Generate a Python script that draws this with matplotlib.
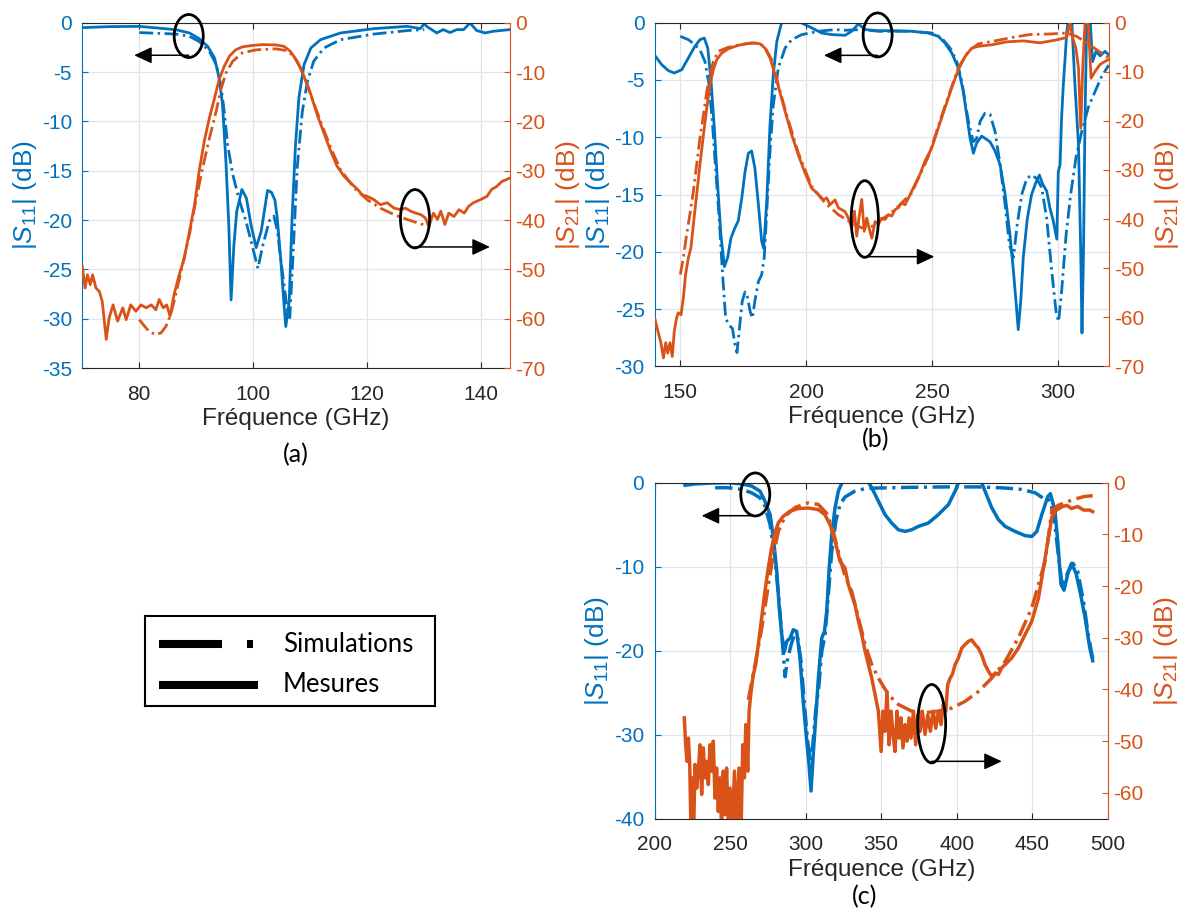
import matplotlib
matplotlib.use("Agg")
import matplotlib.pyplot as plt
from matplotlib.patches import Ellipse, FancyArrowPatch
from matplotlib.lines import Line2D

plt.rcParams['font.family'] = ['Liberation Sans', 'DejaVu Sans']
plt.rcParams['mathtext.fontset'] = 'custom'
plt.rcParams['mathtext.rm'] = 'Liberation Sans'
plt.rcParams['mathtext.it'] = 'Liberation Sans:italic'
plt.rcParams['axes.unicode_minus'] = False

BLUE = '#0072BD'
ORANGE = '#D95319'
DARK = '#262626'

# ---------------- panel (a) ----------------
a_s11_mes_f = [70.0, 74.7, 80.0, 86.4, 88.8, 90.5, 92.0, 93.2, 94.0, 94.6, 95.2, 95.7, 96.1, 96.6,
               97.1, 98.0, 98.8, 99.6, 100.5, 101.4, 102.5, 103.2, 103.8, 104.2, 104.8, 105.4, 105.7,
               106.3, 106.8, 107.4, 108.0, 108.9, 110.1, 111.8, 115.3, 121.2, 127.0, 129.3, 130.0,
               130.4, 132.2, 133.3, 134.5, 135.7, 136.9, 138.0, 139.2, 140.7, 142.1, 145.0]
a_s11_mes_db = [-0.5, -0.4, -0.37, -0.71, -1.04, -1.62, -2.4, -3.58, -5.6, -8.3, -14.1, -20.5, -28.1,
                -22.5, -19.1, -16.9, -17.8, -20.5, -22.8, -21.1, -17.0, -17.2, -18.0, -19.8, -23.9,
                -28.6, -30.8, -28.2, -19.8, -12.4, -7.6, -4.25, -2.56, -1.72, -1.04, -0.6, -0.37,
                -0.6, -0.1, -0.37, -1.04, -0.7, -1.0, -0.7, -0.7, -0.03, -0.8, -1.04, -0.87, -0.7]
a_s11_sim_f = [80.0, 86.4, 88.8, 90.5, 92.3, 93.5, 94.3, 94.9, 95.5, 96.4, 97.6, 98.7, 99.9, 100.8,
               101.7, 102.8, 103.6, 104.2, 104.8, 106.0, 106.4, 107.0, 107.7, 108.6, 109.5, 110.6,
               112.4, 115.3, 121.2, 127.0, 130.0]
a_s11_sim_db = [-1.0, -1.15, -1.38, -1.9, -2.9, -4.25, -6.3, -9.0, -12.4, -15.4, -18.1, -20.1, -22.8,
                -24.9, -22.5, -20.1, -19.6, -21.0, -23.9, -29.3, -29.9, -23.2, -14.7, -9.0, -5.95,
                -3.9, -2.56, -1.72, -1.15, -0.8, -0.7]
a_s21_mes_f = [70.0, 70.5, 70.9, 71.4, 71.8, 72.4, 73.0, 73.5, 74.2, 74.7, 75.4, 76.2, 77.1, 77.7,
               78.5, 79.4, 80.3, 81.2, 82.1, 82.9, 83.5, 84.2, 84.8, 85.4, 86.1, 87.0, 87.9, 88.8,
               89.7, 90.5, 91.4, 92.3, 93.2, 94.0, 94.9, 95.8, 96.9, 98.1, 99.9, 101.6, 104.0,
               105.4, 106.5, 107.7, 108.9, 110.1, 111.2, 112.4, 113.6, 114.7, 115.9, 117.1, 118.3,
               119.1, 120.0, 121.2, 122.3, 123.5, 124.7, 125.9, 126.7, 127.6, 128.5, 129.4, 130.2,
               130.8, 131.6, 132.3, 132.9, 133.6, 134.3, 135.2, 136.1, 137.0, 137.8, 138.6, 139.8,
               141.0, 141.8, 142.7, 143.6, 145.0]
a_s21_mes_db = [-49.4, -53.8, -51.1, -53.1, -51.1, -53.8, -54.5, -56.5, -64.2, -59.9, -57.2, -60.5,
                -57.8, -60.2, -57.2, -58.5, -57.2, -57.8, -57.2, -58.2, -56.1, -57.8, -57.2, -59.5,
                -55.1, -51.1, -47.7, -42.3, -36.9, -30.1, -24.0, -19.3, -15.3, -11.5, -8.85, -6.8,
                -5.5, -4.9, -4.6, -4.45, -4.5, -4.8, -5.8, -7.8, -10.9, -14.6, -18.6, -22.4, -26.1,
                -29.1, -31.1, -32.5, -33.8, -34.9, -35.2, -35.9, -36.9, -36.5, -37.6, -37.9, -37.6,
                -38.2, -38.6, -38.9, -39.6, -41.3, -38.6, -39.9, -38.2, -40.9, -38.6, -39.3, -37.9,
                -38.6, -37.2, -36.5, -35.9, -35.2, -33.8, -33.2, -32.2, -31.5]
a_s21_sim_f = [80.0, 80.9, 81.8, 82.9, 83.8, 84.7, 85.5, 86.4, 87.6, 88.8, 89.9, 91.1, 92.3, 93.5,
               94.3, 95.2, 96.4, 98.1, 100.5, 104.0, 106.0, 107.1, 108.3, 109.5, 110.6, 111.8,
               113.6, 115.3, 117.7, 120.0, 122.3, 124.7, 127.0, 129.4, 130.2]
a_s21_sim_db = [-60.2, -61.5, -62.7, -63.2, -62.9, -61.5, -59.2, -55.1, -49.0, -42.9, -36.2, -29.5,
                -23.4, -17.9, -13.6, -10.2, -7.8, -6.1, -5.5, -5.3, -5.7, -6.8, -9.2, -12.6, -16.3,
                -20.0, -25.4, -29.8, -33.5, -35.9, -37.6, -38.9, -39.9, -40.8, -41.0]

# ---------------- panel (b) ----------------
b_s11_mes_f = [140.0, 142.6, 145.3, 147.6, 150.6, 153.2, 155.8, 157.8, 159.5, 160.9, 162.2, 163.5,
               164.8, 166.1, 167.5, 168.8, 170.1, 171.7, 173.0, 174.4, 175.7, 177.0, 178.3, 179.6,
               181.0, 182.3, 183.1, 184.3, 185.6, 186.9, 188.3, 190.2, 193.0, 196.5, 198.2, 202.2,
               206.1, 210.1, 215.4, 218.0, 220.7, 223.3, 228.6, 235.2, 241.8, 248.4, 252.4, 255.0,
               257.7, 260.3, 262.3, 263.6, 265.0, 266.3, 267.6, 269.6, 271.6, 272.9, 274.9, 276.9,
               278.9, 280.8, 282.2, 283.2, 284.1, 285.1, 286.1, 287.7, 289.4, 291.2, 292.5, 293.8,
               295.4, 296.7, 298.0, 299.4, 300.0, 300.7, 301.3, 302.0, 302.7, 303.3, 304.0, 305.3,
               306.6, 308.0, 308.9, 309.4, 310.0, 310.6, 311.3, 312.6, 313.6, 315.0, 316.6, 318.5,
               320.0]
b_s11_mes_db = [-2.9, -3.66, -4.19, -4.39, -4.1, -3.08, -2.06, -1.48, -1.34, -2.21, -5.12, -9.2,
                -14.1, -18.5, -21.3, -20.5, -18.8, -17.9, -17.3, -15.3, -13.0, -11.4, -11.2, -12.7,
                -15.9, -19.1, -19.7, -15.6, -8.9, -4.54, -1.63, 0.0, 0.4, 0.3, -0.03, -0.46, -0.9,
                -1.04, -1.1, -0.75, -0.1, -0.6, -0.7, -0.7, -0.75, -0.9, -1.19, -1.77, -2.64, -3.95,
                -6.0, -8.0, -10.1, -11.4, -10.5, -9.9, -10.2, -10.4, -11.2, -12.4, -15.0, -18.5,
                -21.7, -24.3, -26.8, -24.3, -20.5, -17.1, -15.0, -13.9, -13.3, -14.1, -14.7, -16.2,
                -17.3, -18.9, -13.0, -12.4, -8.3, -5.4, -3.1, -1.0, 0.4, 0.4, -5.4, -10.6, -20.0,
                -27.1, -20.0, -8.3, 0.4, 0.4, -3.4, -2.5, -2.9, -2.5, -2.8]
b_s11_sim_f = [150.0, 153.2, 155.8, 157.8, 159.8, 161.4, 162.7, 164.0, 165.4, 166.7, 168.0, 169.3,
               170.7, 171.7, 172.5, 173.6, 174.6, 175.7, 176.7, 177.7, 178.6, 179.6, 181.0, 182.3,
               183.3, 184.3, 185.6, 186.9, 188.9, 191.6, 194.2, 198.2, 204.8, 211.4, 215.4, 222.0,
               228.6, 241.8, 249.8, 253.7, 257.0, 259.7, 261.7, 263.2, 264.6, 266.3, 267.6, 269.0,
               270.9, 272.9, 274.9, 276.9, 278.9, 280.6, 282.2, 283.7, 285.5, 287.5, 289.4, 291.4,
               293.4, 295.4, 297.4, 299.1, 300.1, 301.3, 303.1, 304.9, 307.0, 309.3, 311.9, 314.6,
               317.2, 320.0]
b_s11_sim_db = [-1.19, -1.48, -1.92, -2.36, -3.4, -5.4, -8.6, -12.7, -17.0, -21.7, -25.8, -26.4,
                -26.7, -28.1, -28.8, -26.4, -24.3, -23.5, -24.0, -25.2, -25.8, -24.3, -22.6, -22.0,
                -20.5, -16.5, -11.2, -7.2, -3.95, -2.21, -1.48, -1.04, -0.75, -0.6, -0.66, -0.6,
                -0.75, -0.75, -0.9, -1.33, -2.2, -3.37, -5.12, -7.2, -8.9, -10.4, -10.1, -8.6, -7.9,
                -8.0, -9.5, -12.4, -15.9, -19.4, -20.5, -17.6, -15.0, -13.6, -13.3, -13.6, -14.4,
                -17.1, -21.7, -25.2, -26.1, -23.5, -18.5, -15.0, -11.8, -9.5, -7.4, -6.0, -4.7, -3.7]
b_s21_mes_f = [140.0, 141.3, 142.3, 143.3, 144.2, 145.0, 145.9, 146.8, 147.6, 148.5, 149.2, 150.3,
               151.2, 152.1, 153.2, 154.2, 155.2, 156.5, 157.8, 159.2, 160.5, 161.8, 163.1, 164.5,
               166.4, 169.1, 173.0, 178.3, 181.7, 183.6, 185.6, 187.6, 189.6, 191.6, 194.2, 196.8,
               199.5, 202.1, 204.8, 206.8, 208.1, 209.4, 211.4, 212.7, 215.4, 216.7, 218.0, 219.1,
               220.0, 220.9, 222.0, 223.0, 224.0, 224.9, 226.0, 227.3, 228.6, 229.9, 231.2, 232.6,
               233.9, 235.2, 236.5, 237.8, 239.2, 241.2, 243.1, 245.1, 247.1, 249.8, 252.4, 255.0,
               257.7, 260.3, 263.0, 265.6, 268.3, 273.6, 279.5, 286.1, 292.7, 299.4, 303.3, 304.6,
               305.7, 307.0, 308.0, 308.9, 309.7, 310.6, 311.9, 313.0, 314.6, 316.6, 318.5, 320.0]
b_s21_mes_db = [-60.5, -63.2, -65.2, -68.3, -65.2, -67.3, -65.2, -68.0, -62.9, -60.2, -59.1, -59.5,
                -56.1, -51.3, -47.9, -45.9, -41.1, -35.0, -28.9, -22.8, -17.4, -12.6, -9.6, -7.5,
                -6.2, -5.3, -4.6, -4.1, -4.3, -5.2, -7.2, -10.6, -14.3, -18.1, -22.8, -26.9, -30.6,
                -33.7, -35.0, -36.1, -35.7, -37.1, -36.1, -37.7, -38.5, -39.8, -41.8, -38.4, -43.5,
                -39.8, -36.0, -42.5, -39.8, -41.8, -43.9, -40.5, -41.1, -39.8, -40.1, -39.1, -39.4,
                -38.1, -37.7, -36.7, -37.1, -35.0, -33.0, -30.9, -28.2, -25.5, -21.4, -17.4, -13.3,
                -9.6, -6.9, -5.2, -4.8, -4.5, -3.9, -3.7, -4.1, -3.5, -3.0, 0.0, -3.1, -5.2, -9.2,
                -21.5, -9.2, 0.0, 0.0, -11.3, -9.9, -8.5, -7.9, -7.5]
b_s21_sim_f = [150.0, 151.2, 152.5, 153.8, 155.2, 156.5, 157.8, 159.2, 160.5, 161.8, 163.1, 165.1,
               169.1, 175.7, 181.0, 183.6, 186.2, 191.6, 196.8, 202.1, 207.4, 212.7, 218.0, 222.0,
               226.0, 229.9, 235.2, 241.8, 248.4, 255.0, 260.3, 264.3, 268.3, 274.9, 280.8, 288.8,
               296.7, 303.3, 307.3, 311.3, 315.2, 320.0]
b_s21_sim_db = [-51.3, -47.9, -43.2, -39.1, -34.3, -28.9, -23.5, -18.7, -14.0, -10.6, -7.9, -5.8,
                -5.0, -4.3, -4.1, -5.0, -7.5, -17.7, -26.5, -33.3, -36.7, -39.1, -40.8, -41.8,
                -41.5, -40.1, -38.1, -34.7, -27.3, -17.0, -9.2, -5.8, -4.3, -3.7, -3.1, -2.4, -2.3,
                -2.1, -2.8, -4.1, -5.5, -7.2]

# ---------------- panel (c) ----------------
c_s11_mes_f = [220.1, 226.7, 237.7, 248.8, 257.6, 264.2, 269.7, 273.0, 276.4, 278.6, 280.8, 282.3,
               284.1, 285.9, 287.4, 289.6, 291.8, 294.0, 296.2, 298.5, 300.7, 302.2, 303.5, 305.1,
               306.6, 308.4, 310.6, 312.4, 313.9, 315.4, 317.2, 319.4, 321.6, 324.0, 327.0, 332.0,
               338.0, 341.0, 343.7, 348.1, 352.5, 356.9, 361.3, 365.8, 370.2, 374.6, 381.2, 387.8,
               394.5, 398.9, 401.1, 405.0, 412.0, 416.5, 418.7, 423.2, 427.6, 432.0, 438.6, 445.2,
               449.7, 453.0, 456.3, 458.5, 460.2, 462.0, 465.0, 467.0, 469.0, 471.0, 474.0, 476.0,
               479.0, 482.0, 485.0, 488.0, 490.0]
c_s11_mes_db = [-0.3, -0.15, -0.04, 0.0, -0.15, -0.4, -1.0, -2.2, -3.8, -6.6, -10.5, -14.5, -18.1,
                -20.1, -18.9, -18.5, -17.5, -17.7, -20.9, -26.4, -30.8, -33.6, -36.7, -32.0, -28.0,
                -23.2, -18.5, -17.7, -15.3, -10.5, -6.2, -3.0, -1.0, 0.0, 0.5, 0.5, 0.5, 0.2, -0.6,
                -2.2, -3.8, -4.8, -5.6, -5.8, -5.6, -5.2, -4.8, -3.8, -2.6, -1.0, 0.0, 0.5, 0.5, 0.0,
                -1.0, -3.0, -4.4, -5.2, -5.8, -6.3, -6.4, -5.8, -3.8, -2.6, -1.67, -1.3, -3.3, -7.3,
                -12.1, -12.8, -10.5, -9.6, -10.8, -13.3, -16.1, -19.6, -21.2]
c_s11_sim_f = [240.0, 248.8, 257.6, 264.2, 269.7, 273.0, 276.4, 279.3, 281.5, 283.8, 285.4, 286.3,
               288.1, 290.3, 292.5, 294.7, 296.9, 299.1, 301.3, 302.9, 304.7, 306.6, 308.8, 310.6,
               312.8, 315.0, 317.2, 319.9, 322.7, 326.0, 332.6, 339.3, 348.1, 370.2, 392.3, 414.3,
               432.0, 443.0, 451.9, 458.5, 462.0, 465.0, 467.5, 470.0, 473.0, 477.0, 480.0, 484.0,
               487.0, 490.0]
c_s11_sim_db = [-0.6, -0.6, -0.8, -1.2, -1.8, -2.8, -5.0, -8.6, -12.5, -17.3, -20.9, -23.1, -20.9,
                -19.3, -18.1, -18.5, -21.3, -26.4, -30.8, -33.2, -31.2, -27.2, -24.0, -20.1, -18.1,
                -13.3, -8.2, -4.6, -2.6, -1.7, -1.0, -0.7, -0.63, -0.55, -0.5, -0.5, -0.63, -0.8,
                -1.2, -2.0, -2.1, -5.0, -9.0, -12.5, -10.9, -9.6, -10.5, -14.2, -18.1, -20.9]
c_s21_mes_f = [219.6, 220.5, 221.4, 222.3, 223.2, 224.0, 224.9, 225.8, 226.7, 227.8, 228.9, 230.0,
               231.1, 232.2, 233.3, 234.4, 235.5, 236.6, 237.7, 238.8, 239.9, 241.0, 242.1, 243.2,
               244.3, 245.4, 246.5, 247.6, 248.8, 249.9, 251.4, 252.8, 254.3, 255.8, 257.2, 258.3,
               259.4, 260.3, 261.6, 262.5, 263.8, 265.3, 266.9, 268.6, 270.8, 273.0, 275.2, 277.4,
               279.6, 281.8, 285.1, 289.6, 295.1, 301.7, 308.3, 312.7, 316.1, 319.4, 322.7, 326.0,
               328.2, 330.4, 332.6, 334.9, 337.1, 339.3, 341.5, 343.7, 345.9, 348.1, 349.9, 351.2,
               352.5, 353.8, 355.2, 356.5, 357.8, 359.1, 360.5, 361.8, 363.1, 364.4, 365.8, 367.1,
               368.4, 369.7, 371.3, 372.8, 374.2, 375.7, 377.2, 379.0, 380.8, 382.5, 384.3, 386.1,
               387.8, 389.6, 391.1, 392.7, 394.0, 395.6, 397.1, 398.9, 401.1, 403.3, 405.5, 407.7,
               409.9, 412.1, 414.3, 416.5, 418.7, 421.0, 423.2, 425.4, 427.6, 429.8, 432.0, 436.4,
               440.8, 445.2, 449.7, 454.1, 458.5, 463.0, 466.0, 470.0, 473.0, 476.0, 480.0, 484.0,
               488.0, 490.0]
c_s21_mes_db = [-45.5, -50.7, -53.9, -49.4, -54.5, -67.0, -57.1, -67.0, -54.5, -59.1, -55.8, -50.7,
                -60.3, -51.3, -57.1, -53.9, -58.4, -50.7, -55.8, -50.0, -61.0, -55.2, -63.6, -57.1,
                -67.0, -55.8, -64.2, -55.2, -67.0, -59.1, -67.0, -55.8, -67.0, -55.2, -67.0, -50.7,
                -57.1, -46.8, -55.8, -44.2, -40.4, -37.1, -35.2, -31.3, -26.2, -21.0, -16.5, -12.6,
                -9.7, -7.8, -6.5, -5.5, -5.0, -4.9, -5.2, -6.2, -8.1, -11.3, -15.2, -16.5, -19.7,
                -21.7, -23.6, -26.8, -29.4, -32.6, -35.2, -37.8, -41.0, -44.2, -52.0, -44.2, -48.1,
                -40.4, -50.7, -44.2, -48.7, -52.0, -44.2, -49.4, -45.5, -51.3, -46.8, -50.0, -45.5,
                -49.4, -44.2, -50.7, -44.9, -48.1, -44.2, -48.7, -44.9, -48.1, -44.2, -47.5, -44.2,
                -46.8, -42.9, -44.2, -39.1, -37.8, -37.1, -35.2, -33.9, -32.0, -31.3, -30.7, -30.4,
                -31.3, -32.0, -33.3, -35.2, -36.5, -37.5, -36.8, -37.1, -35.8, -35.2, -33.9, -32.0,
                -29.4, -26.8, -22.3, -14.6, -6.6, -5.3, -4.6, -4.4, -5.0, -4.6, -5.3, -5.3, -5.6]
c_s21_sim_f = [262.0, 266.4, 270.9, 275.3, 278.6, 281.9, 286.3, 292.9, 301.7, 308.3, 313.8, 318.2,
               322.6, 326.0, 330.4, 334.9, 339.3, 343.7, 348.1, 354.7, 361.3, 370.2, 379.0, 387.8,
               396.7, 405.5, 414.3, 423.2, 432.0, 440.8, 449.7, 458.5, 463.0, 467.0, 472.0, 478.0,
               484.0, 490.0]
c_s21_sim_db = [-42.0, -35.2, -28.1, -19.7, -13.9, -9.4, -6.5, -4.8, -3.9, -4.2, -5.9, -9.4, -14.6,
                -18.0, -21.0, -26.2, -31.3, -35.2, -37.8, -41.0, -42.9, -44.2, -44.5, -44.2, -43.6,
                -42.3, -40.4, -37.8, -34.6, -30.0, -24.2, -15.2, -5.3, -4.4, -3.8, -3.2, -2.7, -2.5]

SIM = (0, (5, 1.6, 0.9, 1.6))
FIG_W, FIG_H = 1184, 911
TICK_FS = 15
LABEL_FS = 17.5


def px_box(x0, y0, x1, y1):
    # pixel box (top-left origin) -> figure fraction rect
    return [x0 / FIG_W, 1 - y1 / FIG_H, (x1 - x0) / FIG_W, (y1 - y0) / FIG_H]


def make_panel(fig, rect, xlim, xticks, ylim1, yticks1, ylim2, yticks2):
    ax = fig.add_axes(rect)
    ax2 = ax.twinx()
    ax.set_xlim(*xlim)
    ax.set_xticks(xticks)
    ax.set_ylim(*ylim1)
    ax.set_yticks(yticks1)
    ax2.set_ylim(*ylim2)
    ax2.set_yticks(yticks2)
    ax.set_axisbelow(True)
    ax.grid(axis='x', color='#e2e2e2', lw=0.9)
    ax.grid(axis='y', color='#dbe7f2', lw=0.9)
    ax.tick_params(axis='x', direction='in', top=True, length=4, colors=DARK,
                   labelsize=TICK_FS, pad=12)
    ax.tick_params(axis='y', direction='in', right=False, length=4, color=BLUE, labelcolor=BLUE,
                   labelsize=TICK_FS, pad=7.5)
    ax2.tick_params(axis='y', direction='in', length=4, color=ORANGE, labelcolor=ORANGE,
                    labelsize=TICK_FS, pad=4)
    ax.spines['left'].set_color(BLUE)
    ax.spines['right'].set_visible(False)
    ax.spines['top'].set_color(DARK)
    ax.spines['bottom'].set_color(DARK)
    for s in ['left', 'top', 'bottom']:
        ax2.spines[s].set_visible(False)
    ax2.spines['right'].set_color(ORANGE)
    ax.set_ylabel(r'$|S_{11}|$ (dB)', color=BLUE, fontsize=19, labelpad=2)
    ax2.set_ylabel(r'$|S_{21}|$ (dB)', color=ORANGE, fontsize=19, labelpad=6)
    ax.set_xlabel('Fréquence (GHz)', color=DARK, fontsize=LABEL_FS, labelpad=3)
    return ax, ax2


def draw(ax, ax2, s11m, s11s, s21m, s21s, lw):
    ax.plot(s11m[0], s11m[1], color=BLUE, lw=lw)
    ax.plot(s11s[0], s11s[1], color=BLUE, lw=lw, ls=SIM)
    ax2.plot(s21m[0], s21m[1], color=ORANGE, lw=lw)
    ax2.plot(s21s[0], s21s[1], color=ORANGE, lw=lw, ls=SIM)


def mark(ax, ax2, cx, cy, w, h, ay, tip):
    e = Ellipse((cx, cy), w, h, transform=ax.transData, fill=False, ec='k', lw=2.0,
                clip_on=False, zorder=5)
    ax2.add_patch(e)
    arr = FancyArrowPatch((cx, ay), (tip, ay), transform=ax.transData,
                          arrowstyle='-|>,head_length=0.9,head_width=0.42', mutation_scale=12,
                          lw=1.1, color='k', shrinkA=0, shrinkB=0, clip_on=False, zorder=5)
    ax2.add_patch(arr)


fig = plt.figure(figsize=(FIG_W / 100, FIG_H / 100), dpi=100)

# (a)
ax, ax2 = make_panel(fig, px_box(82.3, 22.7, 509.8, 368.0), (70, 145), [80, 100, 120, 140],
                     (-35, 0), list(range(-35, 1, 5)), (-70, 0), list(range(-70, 1, 10)))
draw(ax, ax2, (a_s11_mes_f, a_s11_mes_db), (a_s11_sim_f, a_s11_sim_db),
     (a_s21_mes_f, a_s21_mes_db), (a_s21_sim_f, a_s21_sim_db), 2.0)
mark(ax, ax2, 88.67, -1.35, 5.1, 4.36, -3.3, 79.1)
mark(ax, ax2, 128.37, -19.87, 5.1, 5.91, -22.73, 141.5)

# (b)
ax, ax2 = make_panel(fig, px_box(655.1, 22.7, 1108.7, 366.3), (140, 320), [150, 200, 250, 300],
                     (-30, 0), list(range(-30, 1, 5)), (-70, 0), list(range(-70, 1, 10)))
draw(ax, ax2, (b_s11_mes_f, b_s11_mes_db), (b_s11_sim_f, b_s11_sim_db),
     (b_s21_mes_f, b_s21_mes_db), (b_s21_sim_f, b_s21_sim_db), 2.0)
mark(ax, ax2, 228.3, -1.07, 11.5, 3.84, -2.85, 207.0)
mark(ax, ax2, 223.2, -17.14, 10.8, 6.69, -20.43, 250.8)

# (c)
ax, ax2 = make_panel(fig, px_box(654.7, 482.7, 1107.8, 818.7), (200, 500),
                     list(range(200, 501, 50)), (-40, 0), list(range(-40, 1, 10)), (-65, 0),
                     list(range(-60, 1, 10)))
draw(ax, ax2, (c_s11_mes_f, c_s11_mes_db), (c_s11_sim_f, c_s11_sim_db),
     (c_s21_mes_f, c_s21_mes_db), (c_s21_sim_f, c_s21_sim_db), 2.5)
mark(ax, ax2, 266.6, -1.40, 19.2, 5.12, -3.93, 231.1)
mark(ax, ax2, 383.4, -28.69, 18.5, 9.33, -33.17, 429.8)

# panel captions
fig.text(296 / FIG_W, 1 - 455 / FIG_H, '(a)', family='Lato', fontsize=18, ha='center', va='center')
fig.text(876 / FIG_W, 1 - 440 / FIG_H, '(b)', family='Lato', fontsize=18, ha='center', va='center')
fig.text(865 / FIG_W, 1 - 897 / FIG_H, '(c)', family='Lato', fontsize=18, ha='center', va='center')

# line-style key box
lax = fig.add_axes(px_box(145, 616, 435, 706))
lax.set_xlim(0, 290)
lax.set_ylim(90, 0)
lax.set_xticks([])
lax.set_yticks([])
for s in lax.spines.values():
    s.set_linewidth(1.5)
    s.set_color('k')
lax.add_line(Line2D([14, 77], [28, 28], color='k', lw=5.8, solid_capstyle='butt'))
lax.add_line(Line2D([102, 108], [28, 28], color='k', lw=5.8, solid_capstyle='butt'))
lax.add_line(Line2D([14, 113], [69, 69], color='k', lw=5.8, solid_capstyle='butt'))
lax.text(138, 28, 'Simulations', family='Lato', fontsize=18.5, va='center', ha='left')
lax.text(138, 69, 'Mesures', family='Lato', fontsize=18.5, va='center', ha='left')

fig.savefig('out.png', dpi=100)
